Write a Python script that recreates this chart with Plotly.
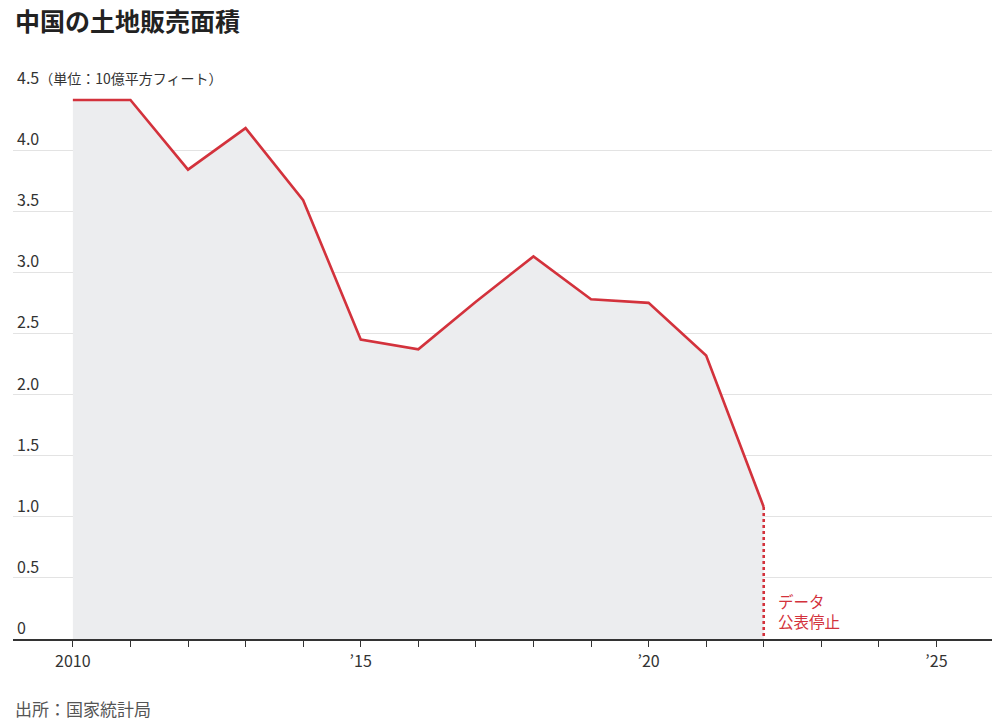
import plotly.graph_objects as go

years = [2010, 2011, 2012, 2013, 2014, 2015, 2016, 2017, 2018, 2019, 2020, 2021, 2022]
land_sales = [4.41, 4.41, 3.84, 4.18, 3.59, 2.45, 2.37, 2.76, 3.13, 2.78, 2.75, 2.32, 1.08]

y_ticks = [0, 0.5, 1.0, 1.5, 2.0, 2.5, 3.0, 3.5, 4.0, 4.5]
y_labels = ["0", "0.5", "1.0", "1.5", "2.0", "2.5", "3.0", "3.5", "4.0", "4.5"]
unit_label = "（単位：10億平方フィート）"
x_ticks = list(range(2010, 2027))
x_labels = ["2010" if y == 2010 else ("’" + str(y)[2:] if y % 5 == 0 else "") for y in x_ticks]

title = "中国の土地販売面積"
source = "出所：国家統計局"
note = "データ<br>公表停止"

RED = "#D3323C"
FONT = "Noto Sans CJK JP"
W, H = 992, 714  # page body has an 8px margin
T, B = 81, 83
PH = H - T - B

fig = go.Figure()
fig.add_trace(go.Scatter(
    x=years, y=land_sales, mode="lines",
    line=dict(color=RED, width=2.6),
    fill="tozeroy", fillcolor="#ECEDEF",
    hoverinfo="skip", showlegend=False,
))
fig.add_trace(go.Scatter(
    x=[years[-1], years[-1]], y=[land_sales[-1], 0], mode="lines",
    line=dict(color=RED, width=2.6, dash="dot"),
    hoverinfo="skip", showlegend=False,
))

for v, lab in zip(y_ticks, y_labels):
    text = lab
    if v == y_ticks[-1]:
        text = lab + "<span style='font-size:14px'>" + unit_label + "</span>"
    fig.add_annotation(
        x=0, xref="paper", y=v, yref="y", text=text, showarrow=False,
        xanchor="left", yanchor="bottom", xshift=2, yshift=-2,
        font=dict(family=FONT, size=16, color="#333333"),
    )

fig.add_annotation(
    x=years[-1], xref="x", y=0, yref="y", text=note, showarrow=False,
    xanchor="left", yanchor="bottom", xshift=12, yshift=5, align="left",
    font=dict(family=FONT, size=15.5, color=RED),
)

# title as a paper-anchored annotation
fig.add_annotation(
    x=0, xref="paper", y=1 + (T - 12) / PH, yref="paper", text="<b>" + title + "</b>",
    showarrow=False, xanchor="left", yanchor="middle",
    font=dict(family=FONT, size=25, color="#222222"),
)

fig.update_layout(
    width=W, height=H,
    margin=dict(l=5, r=6, t=T, b=B),
    paper_bgcolor="white", plot_bgcolor="white",
    font=dict(family=FONT, color="#333333"),
    xaxis=dict(
        range=[2008.96, 2026.0], tickvals=x_ticks, ticktext=x_labels,
        showgrid=False, zeroline=False, showline=True, linecolor="#333333", linewidth=1.6,
        ticks="outside", ticklen=6, tickwidth=1.3, tickcolor="#333333",
        ticklabelstandoff=1,
        tickfont=dict(family=FONT, size=16, color="#333333"),
    ),
    yaxis=dict(
        range=[0, 4.5], tickvals=y_ticks, showticklabels=False,
        showgrid=True, gridcolor="#E3E3E3", gridwidth=1, zeroline=False,
    ),
)

fig.add_annotation(
    x=0, xref="paper", y=-(700 - 631) / PH, yref="paper", text=source, showarrow=False,
    xanchor="left", yanchor="middle",
    font=dict(family=FONT, size=17, color="#555555"),
)

fig.write_html("out.html")
